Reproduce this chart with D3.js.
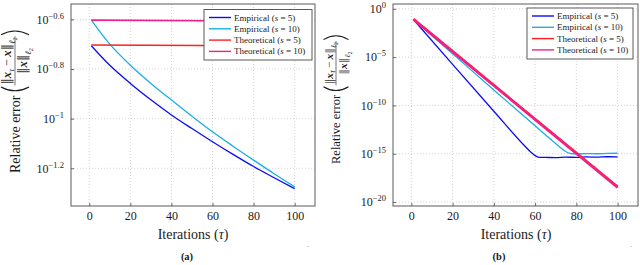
<!DOCTYPE html>
<html>
<head>
<meta charset="utf-8">
<script src="https://cdn.jsdelivr.net/npm/d3@7"></script>
<style>
body { margin: 0; background: #fff; }
svg text { font-family: "Liberation Serif", "DejaVu Serif", serif; fill: #1a1a1a; }
</style>
</head>
<body>
<div id="chart"></div>
<script>
// values are log10 of the relative error

// panel (a)
const iterA = [1, 10, 20, 30, 40, 50, 60, 70, 80, 90, 100]
const empA5 = [-0.706, -0.785, -0.858, -0.924, -0.985, -1.040, -1.093, -1.144, -1.193, -1.238, -1.282]
const empA10 = [-0.603, -0.700, -0.785, -0.858, -0.925, -0.990, -1.053, -1.111, -1.167, -1.222, -1.275]
const theoIterA = [1, 100]
const theoA5 = [-0.703, -0.707]
const theoA10 = [-0.603, -0.607]
const yTicksA = [-0.6, -0.8, -1, -1.2]

// panel (b)
const iterB5 = [1, 20, 40, 55, 58, 60, 62, 65, 70, 75, 80, 85, 90, 95, 100]
const empB5 = [-1.1, -5.75, -10.6, -14.2, -14.85, -15.2, -15.37, -15.38, -15.4, -15.35, -15.38, -15.33, -15.36, -15.31, -15.33]
const iterB10 = [1, 20, 40, 60, 70, 74, 76, 78, 80, 85, 90, 95, 100]
const empB10 = [-1.1, -4.65, -8.4, -12.1, -13.95, -14.65, -14.9, -15.0, -15.02, -14.98, -15.0, -14.97, -14.95]
const theoIterB = [1, 100]
const theoB5 = [-1.05, -18.42]
const theoB10 = [-1.1, -18.5]
const yTicksB = [0, -5, -10, -15, -20]

const xTicks = [0, 20, 40, 60, 80, 100]
const seriesNames = ['Empirical', 'Empirical', 'Theoretical', 'Theoretical']
const seriesS = ['5', '10', '5', '10']
const colors = ['#0a0aff', '#1aaeea', '#ff1f1f', '#f0208a']

const serif = '"Liberation Serif", "DejaVu Serif", serif'
const width = 640, height = 265

const svg = d3.select('#chart')
  .append('svg')
  .attr('width', width)
  .attr('height', height)

function fmtExp(e) {
  return String(e).replace('-', '\u2212')
}

function drawPanel(cfg) {
  const g = svg.append('g')

  const x = d3.scaleLinear()
    .domain([-8.9, 109.9])
    .range([cfg.left, cfg.right])

  const y = d3.scaleLog()
    .domain([Math.pow(10, cfg.yMin), Math.pow(10, cfg.yMax)])
    .range([cfg.bottom, cfg.top])

  // dotted grid
  g.append('g').selectAll('line')
    .data(xTicks)
    .enter()
    .append('line')
    .attr('x1', d => x(d)).attr('x2', d => x(d))
    .attr('y1', cfg.top).attr('y2', cfg.bottom)
    .attr('stroke', '#c8c8c8')
    .attr('stroke-width', 0.8)
    .attr('stroke-dasharray', '1,2')

  g.append('g').selectAll('line')
    .data(cfg.yTicks)
    .enter()
    .append('line')
    .attr('x1', cfg.left).attr('x2', cfg.right)
    .attr('y1', d => y(Math.pow(10, d))).attr('y2', d => y(Math.pow(10, d)))
    .attr('stroke', '#c8c8c8')
    .attr('stroke-width', 0.8)
    .attr('stroke-dasharray', '1,2')

  // x axis
  const xAxis = g.append('g')
    .attr('transform', 'translate(0,' + cfg.bottom + ')')
    .call(d3.axisBottom(x).tickValues(xTicks).tickSize(-3).tickPadding(5).tickFormat(d3.format('d')))
  xAxis.attr('font-family', serif)
  xAxis.select('.domain').remove()
  xAxis.selectAll('line').attr('stroke', '#666')
  xAxis.selectAll('text')
    .attr('font-size', 12)
    .attr('fill', '#1a1a1a')

  // y axis
  const yAxis = g.append('g')
    .attr('transform', 'translate(' + cfg.left + ',0)')
    .call(d3.axisLeft(y).tickValues(cfg.yTicks.map(d => Math.pow(10, d))).tickSize(-3).tickPadding(7).tickFormat(''))
  yAxis.attr('font-family', serif)
  yAxis.select('.domain').remove()
  yAxis.selectAll('line').attr('stroke', '#666')
  yAxis.selectAll('.tick text')
    .attr('font-size', 12)
    .attr('fill', '#1a1a1a')
    .each(function(d) {
      const t = d3.select(this)
      const e = Math.round(Math.log10(d) * 10) / 10
      t.append('tspan').text('10')
      t.append('tspan').attr('dy', -5).attr('font-size', 8.5).text(fmtExp(e))
    })

  // frame
  g.append('rect')
    .attr('x', cfg.left).attr('y', cfg.top)
    .attr('width', cfg.right - cfg.left)
    .attr('height', cfg.bottom - cfg.top)
    .attr('fill', 'none')
    .attr('stroke', '#5a5a5a')
    .attr('stroke-width', 1)

  const line = d3.line()
    .x(d => x(d[0]))
    .y(d => y(Math.pow(10, d[1])))
    .curve(d3.curveMonotoneX)

  const series = [
    { xs: cfg.iterE5, ys: cfg.emp5, w: 1.3 },
    { xs: cfg.iterE10, ys: cfg.emp10, w: 1.3 },
    { xs: cfg.iterT, ys: cfg.theo5, w: cfg.theoW },
    { xs: cfg.iterT, ys: cfg.theo10, w: cfg.theoW }
  ]

  series.forEach(function(s, i) {
    g.append('path')
      .datum(s.xs.map((v, k) => [v, s.ys[k]]))
      .attr('d', line)
      .attr('fill', 'none')
      .attr('stroke', colors[i])
      .attr('stroke-width', s.w)
  })

  // legend
  const lg = g.append('g')
  lg.append('rect')
    .attr('x', cfg.legX).attr('y', cfg.legY)
    .attr('width', cfg.legW).attr('height', cfg.legH)
    .attr('fill', '#fff')
    .attr('stroke', '#5a5a5a')
    .attr('stroke-width', 1)

  seriesNames.forEach(function(name, i) {
    const ry = cfg.legY + 8 + i * 11.3
    lg.append('line')
      .attr('x1', cfg.legX + 5).attr('x2', cfg.legX + 27)
      .attr('y1', ry).attr('y2', ry)
      .attr('stroke', colors[i])
      .attr('stroke-width', 1.4)
    const t = lg.append('text')
      .attr('x', cfg.legX + 30)
      .attr('y', ry + 3)
      .attr('font-size', 9)
    t.append('tspan').text(name + ' (')
    t.append('tspan').attr('font-style', 'italic').text('s')
    t.append('tspan').text(' = ' + seriesS[i] + ')')
  })

  // x label
  const xl = g.append('text')
    .attr('x', cfg.xLabelX)
    .attr('y', 239)
    .attr('text-anchor', 'middle')
    .attr('font-size', 14)
  xl.append('tspan').text('Iterations (')
  xl.append('tspan').attr('font-style', 'italic').text('\u03c4')
  xl.append('tspan').text(')')

  // caption
  g.append('text')
    .attr('x', cfg.capX)
    .attr('y', 260)
    .attr('text-anchor', 'middle')
    .attr('font-size', 10.5)
    .attr('font-weight', 'bold')
    .text(cfg.caption)

  // stray dot near the bottom corner
  g.append('circle')
    .attr('cx', cfg.right - 7).attr('cy', 246.5)
    .attr('r', 0.6)
    .attr('fill', '#999')

  drawYLabel(cfg.yLabelX, cfg.yLabelBottom, cfg.yLabelSize)
}

function norm(t) {
  // double bar from a font that has it
  return t.append('tspan').attr('font-family', '"DejaVu Sans", sans-serif').attr('fill', '#555').text('\u2016')
}

function drawYLabel(cx, bottom, fs) {
  const g = svg.append('g')
    .attr('transform', 'translate(' + cx + ',' + bottom + ') rotate(-90)')

  const main = g.append('text')
    .attr('x', 0)
    .attr('y', fs * 0.33)
    .attr('font-size', fs)
    .text('Relative error')
  const len = main.node().getComputedTextLength()

  const ff = fs * 0.9
  const sub = ff * 0.68
  const x0 = len + fs * 0.35
  const b = 3.8
  const h = fs * 1.0

  const num = g.append('text')
    .attr('y', -ff * 0.3)
    .attr('font-size', ff)
    .attr('text-anchor', 'middle')
  norm(num)
  num.append('tspan').attr('font-weight', 'bold').attr('font-style', 'italic').text('x')
  num.append('tspan').attr('dy', ff * 0.25).attr('font-size', sub).attr('font-style', 'italic').text('\u03c4')
  num.append('tspan').attr('dy', -ff * 0.25).text('\u2009\u2212\u2009')
  num.append('tspan').attr('font-weight', 'bold').attr('font-style', 'italic').text('x')
  norm(num)
  num.append('tspan').attr('dy', ff * 0.3).attr('font-size', sub).attr('font-style', 'italic').text('\u2113')
  num.append('tspan').attr('dy', ff * 0.15).attr('font-size', sub * 0.75).text('2')

  const den = g.append('text')
    .attr('y', ff * 0.95)
    .attr('font-size', ff)
    .attr('text-anchor', 'middle')
  norm(den)
  den.append('tspan').attr('font-weight', 'bold').attr('font-style', 'italic').text('x')
  norm(den)
  den.append('tspan').attr('dy', ff * 0.3).attr('font-size', sub).attr('font-style', 'italic').text('\u2113')
  den.append('tspan').attr('dy', ff * 0.15).attr('font-size', sub * 0.75).text('2')

  const wNum = num.node().getComputedTextLength()
  const wDen = den.node().getComputedTextLength()
  const w = Math.max(wNum, wDen) + 2
  const mid = x0 + b + 1.5 + w / 2
  num.attr('x', mid)
  den.attr('x', mid)

  g.append('line')
    .attr('x1', mid - w / 2).attr('x2', mid + w / 2)
    .attr('y1', 0).attr('y2', 0)
    .attr('stroke', '#1a1a1a')
    .attr('stroke-width', 0.6)

  const x1 = mid + w / 2 + 1.5 + b
  g.append('path')
    .attr('d', 'M' + (x0 + b) + ',' + (-h) + ' Q' + (x0 - b) + ',0 ' + (x0 + b) + ',' + h)
    .attr('fill', 'none').attr('stroke', '#1a1a1a').attr('stroke-width', 1.1)
  g.append('path')
    .attr('d', 'M' + (x1 - b) + ',' + (-h) + ' Q' + (x1 + b) + ',0 ' + (x1 - b) + ',' + h)
    .attr('fill', 'none').attr('stroke', '#1a1a1a').attr('stroke-width', 1.1)
}

drawPanel({
  left: 71, right: 315, top: 4, bottom: 206,
  yMin: -1.352, yMax: -0.538, yTicks: yTicksA,
  iterE5: iterA, emp5: empA5, iterE10: iterA, emp10: empA10,
  iterT: theoIterA, theo5: theoA5, theo10: theoA10, theoW: 1.6,
  legX: 204, legY: 9.5, legW: 108, legH: 50.5,
  xLabelX: 193, capX: 187, caption: '(a)',
  yLabelX: 15, yLabelBottom: 173, yLabelSize: 14
})

drawPanel({
  left: 393, right: 638, top: 4, bottom: 206,
  yMin: -20.41, yMax: 0.5, yTicks: yTicksB,
  iterE5: iterB5, emp5: empB5, iterE10: iterB10, emp10: empB10,
  iterT: theoIterB, theo5: theoB5, theo10: theoB10, theoW: 2.4,
  legX: 527, legY: 8, legW: 106, legH: 51,
  xLabelX: 516, capX: 499, caption: '(b)',
  yLabelX: 336, yLabelBottom: 164, yLabelSize: 12.5
})
</script>
</body>
</html>
